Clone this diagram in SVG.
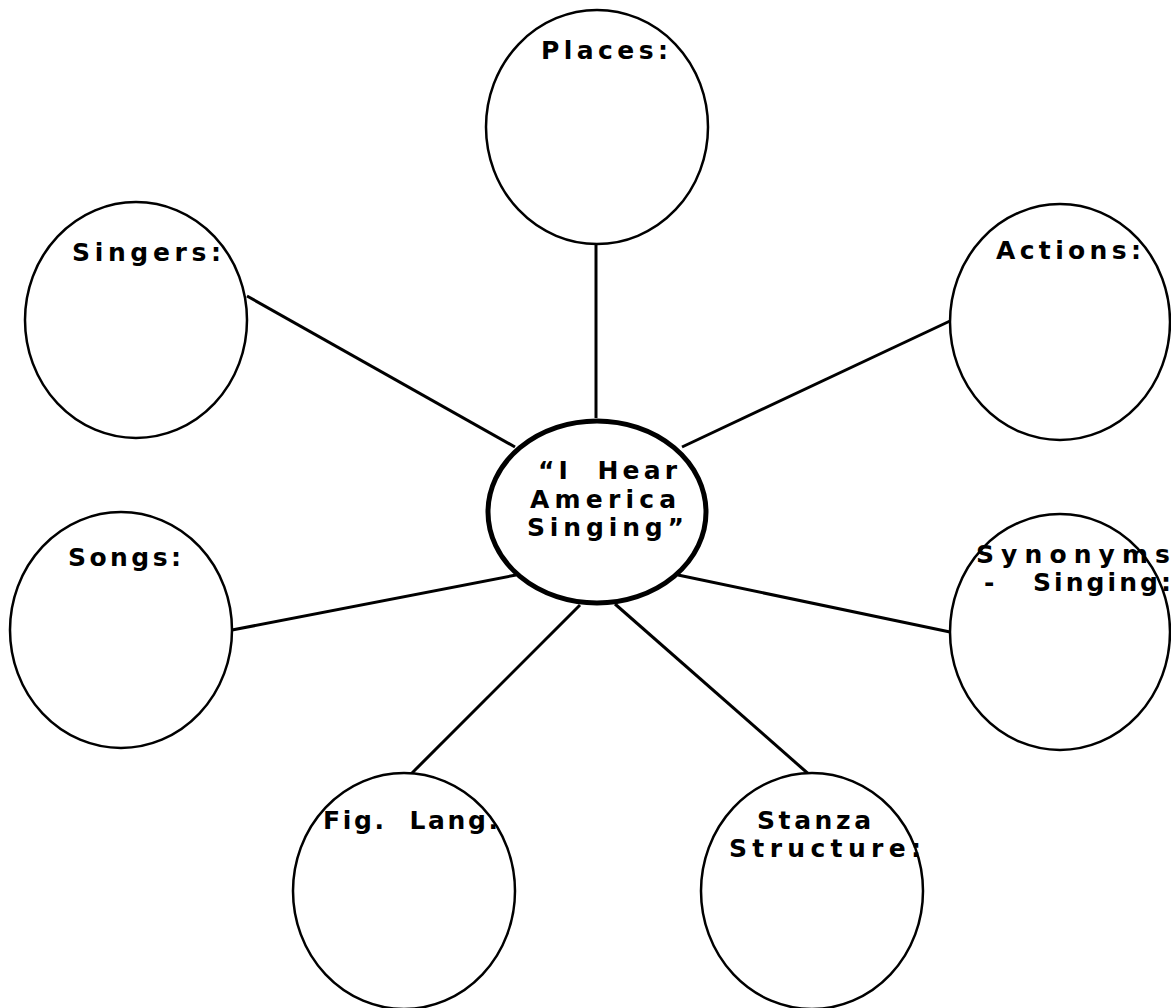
<svg xmlns="http://www.w3.org/2000/svg" width="1171" height="1008" viewBox="0 0 1171 1008">
<style>
.n{fill:#fff;stroke:#000;stroke-width:2.5}
.c{fill:#fff;stroke:#000;stroke-width:5}
.e line{stroke:#000;stroke-width:3}
text{font-family:"DejaVu Sans","Liberation Sans",sans-serif;font-weight:bold;font-size:25px;fill:#000}
</style>
<rect width="1171" height="1008" fill="#fff"/>
<g id="edges" class="e">
<line x1="596" y1="245" x2="596" y2="418"/>
<line x1="247" y1="296" x2="515" y2="447"/>
<line x1="950" y1="321" x2="682" y2="447"/>
<line x1="232" y1="630" x2="516" y2="575"/>
<line x1="950" y1="632" x2="678" y2="575"/>
<line x1="408" y1="777" x2="580" y2="605"/>
<line x1="812" y1="777" x2="615" y2="604"/>
</g>
<g id="places"><ellipse class="n" cx="597" cy="127" rx="111" ry="117"/><text x="541" y="59" textLength="127" lengthAdjust="spacing">Places:</text></g>
<g id="singers"><ellipse class="n" cx="136" cy="320" rx="111" ry="118"/><text x="72" y="261" textLength="149" lengthAdjust="spacing">Singers:</text></g>
<g id="actions"><ellipse class="n" cx="1060" cy="322" rx="110" ry="118"/><text x="996" y="259" textLength="145" lengthAdjust="spacing">Actions:</text></g>
<g id="songs"><ellipse class="n" cx="121" cy="630" rx="111" ry="118"/><text x="68" y="566" textLength="113" lengthAdjust="spacing">Songs:</text></g>
<g id="synonyms"><ellipse class="n" cx="1060" cy="632" rx="110" ry="118"/><text x="976" y="563" textLength="194" lengthAdjust="spacing">Synonyms</text><text x="984" y="591">-</text><text x="1033" y="591" textLength="138" lengthAdjust="spacing">Singing:</text></g>
<g id="figlang"><ellipse class="n" cx="404" cy="891" rx="111" ry="118"/><text x="323" y="829" textLength="175" lengthAdjust="spacing" xml:space="preserve">Fig.  Lang.</text></g>
<g id="stanza"><ellipse class="n" cx="812" cy="891" rx="111" ry="118"/><text x="757" y="829" textLength="114" lengthAdjust="spacing">Stanza</text><text x="729" y="857" textLength="192" lengthAdjust="spacing">Structure:</text></g>
<g id="center"><ellipse class="c" cx="597" cy="512" rx="109" ry="91"/><text x="538" y="479" textLength="139" lengthAdjust="spacing" xml:space="preserve">“I  Hear</text><text x="530" y="508" textLength="146" lengthAdjust="spacing">America</text><text x="527" y="536" textLength="157" lengthAdjust="spacing">Singing”</text></g>
</svg>
